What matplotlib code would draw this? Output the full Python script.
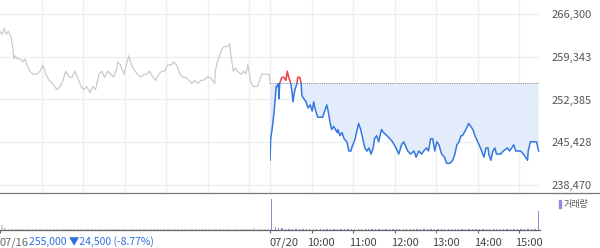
import numpy as np
import matplotlib
matplotlib.use("Agg")
import matplotlib.pyplot as plt
from matplotlib.patches import Rectangle
from matplotlib.lines import Line2D
from matplotlib.transforms import ScaledTranslation

plt.rcParams['font.family'] = ['Noto Sans CJK KR', 'DejaVu Sans']

# 07/16 (minutes after 09:00, price)
min_0716 = [0, 3, 6, 9, 12, 14, 16, 19, 20, 22, 25, 29, 33, 36, 39, 43, 48, 53, 58, 62,
            66, 71, 76, 82, 87, 91, 95, 100, 104, 108, 112, 117, 121, 125, 130, 134, 138, 143, 147, 151,
            156, 160, 164, 169, 170, 174, 179, 186, 190, 195, 199, 203, 208, 212, 216, 221, 225, 229, 234, 238,
            242, 247, 251, 255, 260, 264, 268, 273, 277, 281, 286, 290, 294, 299, 303, 307, 310, 311, 314, 317,
            320, 324, 329, 332, 333, 335, 337, 340, 343, 348, 352, 355, 358, 361, 363, 366, 369, 372, 375, 378,
            384, 389, 390]
px_0716 = [263500, 263000, 264000, 263000, 263500, 263000, 262500, 260500, 259000, 259500,
           259000, 259000, 258500, 259000, 258000, 257000, 256500, 256500, 257000, 258000,
           256500, 255500, 255000, 254000, 254500, 255500, 257000, 256000, 256000, 257000,
           256000, 254500, 254000, 254500, 253500, 254500, 254000, 256500, 257000, 256000,
           257000, 256500, 256000, 257500, 258500, 258000, 256500, 259500, 258000, 257000,
           256500, 256000, 256500, 256500, 257000, 256000, 255500, 256500, 257000, 257000,
           258000, 258000, 258500, 258000, 256500, 256000, 256000, 255500, 255000, 255500,
           255000, 255500, 255500, 256000, 256000, 255500, 255000, 257000, 258500, 259500,
           260500, 261000, 261000, 261500, 260000, 258500, 257000, 257500, 257000, 256500,
           257000, 256500, 258000, 256000, 255000, 254500, 254500, 254500, 255500, 256500,
           256500, 256500, 255000]

# 07/20
min_0720 = [0, 1, 3, 6, 9, 10, 12, 13, 14, 17, 20, 23, 25, 27, 30, 32, 33, 36, 39, 40,
            43, 45, 46, 49, 52, 55, 58, 61, 63, 66, 69, 74, 76, 79, 82, 84, 87, 89, 92, 97,
            98, 101, 104, 107, 111, 114, 117, 118, 123, 125, 128, 131, 134, 137, 140, 143, 146, 149, 151, 154,
            157, 161, 164, 169, 173, 177, 182, 186, 190, 193, 199, 203, 208, 211, 215, 219, 222, 226, 229, 232,
            235, 238, 241, 244, 248, 252, 255, 260, 264, 267, 270, 273, 276, 278, 283, 287, 290, 293, 296, 300,
            304, 309, 312, 315, 316, 319, 322, 325, 327, 330, 333, 337, 343, 346, 352, 355, 359, 362, 366, 372,
            373, 376, 381, 385, 388]
px_0720 = [242500, 246000, 247500, 250500, 254500, 254500, 255000, 252500, 255000, 256000,
           256000, 255500, 257000, 256000, 255000, 253500, 252000, 254000, 255000, 256000,
           256000, 255000, 253000, 252500, 252000, 251000, 251500, 250500, 252000, 250500,
           249500, 249500, 249500, 250500, 251500, 250500, 248500, 247500, 248000, 247000,
           247500, 246500, 247000, 246000, 245500, 244000, 244000, 244500, 246000, 247000,
           248500, 247500, 246000, 244500, 244000, 244500, 243500, 244500, 246000, 246500,
           245500, 247500, 247000, 246500, 246000, 245500, 244500, 243500, 245000, 245500,
           244000, 243500, 244000, 243000, 244000, 243500, 244000, 244500, 244000, 246000,
           246000, 244000, 245500, 245000, 243500, 243000, 242000, 242000, 242500, 243500,
           245000, 245500, 246500, 246500, 247500, 248500, 248000, 247500, 246500, 245500,
           244500, 243000, 244500, 244500, 243500, 242500, 244000, 244500, 243500, 243500,
           243500, 244000, 244500, 244000, 245000, 244000, 244000, 244000, 243500, 242500,
           244000, 245500, 245500, 245500, 244000]

prev_close = 255000

# volume, 5-minute buckets
vol_0716 = [14, 5, 4, 3, 4, 3, 3, 2, 3, 3, 2, 3, 2, 2, 3, 2, 2, 3, 2, 2,
            2, 3, 2, 2, 2, 2, 3, 2, 2, 2, 2, 2, 2, 2, 2, 3, 2, 2, 2, 2,
            2, 2, 2, 2, 2, 2, 2, 2, 2, 2, 2, 2, 2, 2, 2, 2, 2, 2, 2, 2,
            3, 3, 2, 2, 2, 2, 2, 2, 2, 2, 2, 3, 4, 6, 3, 2, 2, 2]
vol_0720 = [85, 9, 6, 5, 4, 4, 4, 3, 3, 3, 3, 3, 3, 3, 3, 2, 3, 3, 2, 2,
            3, 2, 2, 2, 2, 2, 2, 2, 2, 2, 2, 2, 2, 2, 2, 2, 2, 2, 2, 2,
            2, 2, 2, 2, 2, 2, 2, 2, 2, 2, 2, 2, 2, 2, 2, 2, 2, 2, 2, 2,
            2, 2, 2, 2, 2, 2, 2, 2, 2, 2, 2, 2, 2, 2, 2, 2, 2, 52]

yticks = [238470, 245428, 252385, 259343, 266300]
xtick_pos = [0, 390, 450, 510, 570, 630, 690, 750]
xtick_lab = ['07/16', '07/20', '10:00', '11:00', '12:00', '13:00', '14:00', '15:00']

blue = '#3478de'
red = '#f0414a'
gray = '#cbcbcb'
purple = '#9488e0'

fig = plt.figure(figsize=(6, 2.48), dpi=100)
ax = fig.add_axes([0, 55 / 248, 0.9, 193 / 248])
axv = fig.add_axes([0, 18 / 248, 0.9, 37 / 248])

x1 = np.array(min_0716)
p1 = np.array(px_0716)
x2 = 390 + np.array(min_0720)
p2 = np.array(px_0720)

ax.set_xlim(0, 780)
ax.set_ylim(237168, 268578)
for s in ax.spines.values():
    s.set_visible(False)
ax.set_yticks(yticks)
ax.set_yticklabels([f'{v:,}' for v in yticks])
ax.yaxis.tick_right()
ax.tick_params(axis='y', length=0, pad=8, labelsize=8, labelcolor='#555555')
ax.set_xticks([])
for v in yticks:
    ax.axhline(v, color='#efefef', lw=0.9, zorder=0)
for t in list(range(60, 390, 60)) + list(range(390, 780, 60)):
    ax.axvline(t, color='#efefef', lw=0.9, zorder=0)

ax.plot(x1, p1, color=gray, lw=0.9)
ax.fill_between(x2, p2, prev_close, where=p2 < prev_close, interpolate=True,
                color='#e3ecfa', lw=0, zorder=1)
ax.plot([390, 780], [prev_close, prev_close], color='#888888', lw=0.7,
        linestyle=(0, (1, 1.2)), zorder=2)
lb, = ax.plot(x2, p2, color=blue, lw=1.1, zorder=3)
lr, = ax.plot(x2, p2, color=red, lw=1.1, zorder=3)
lb.set_clip_path(Rectangle((390, 230000), 400, prev_close - 230000, transform=ax.transData))
lr.set_clip_path(Rectangle((390, prev_close), 400, 20000, transform=ax.transData))

# volume
t1 = np.arange(len(vol_0716)) * 5 + 2.5
t2 = 390 + np.arange(len(vol_0720)) * 5 + 2.5
axv.bar(t1, vol_0716, width=3, color='#d2d2d2', lw=0)
axv.bar(t2, vol_0720, width=2, color=purple, lw=0)
axv.set_xlim(0, 780)
axv.set_ylim(0, 100)
axv.set_yticks([])
for k in ['top', 'left', 'right']:
    axv.spines[k].set_visible(False)
axv.spines['bottom'].set_color('#666666')
axv.spines['bottom'].set_linewidth(0.9)
axv.set_xticks(xtick_pos)
axv.set_xticklabels(xtick_lab)
axv.tick_params(axis='x', length=2.5, width=0.8, color='#666666', pad=3,
                labelsize=8, labelcolor='#444444')
for i, lab in enumerate(axv.get_xticklabels()):
    lab.set_ha('left')
    if i >= 2:
        lab.set_transform(lab.get_transform() + ScaledTranslation(-4 / 100, 0, fig.dpi_scale_trans))
    elif i == 0:
        lab.set_color('#666666')

fig.add_artist(Line2D([0, 1], [55 / 248, 55 / 248], color='#777777', lw=0.9))
fig.text(29 / 600, 6 / 248, '255,000 \u25bc24,500 (-8.77%)', color='#2f6fdc',
         fontsize=7.5, va='center', ha='left')
fig.add_artist(Rectangle((559 / 600, 40 / 248), 2 / 600, 8 / 248, color=purple,
                         transform=fig.transFigure))
fig.text(564 / 600, 44 / 248, '거래량', fontsize=6.5, color='#555555', va='center', ha='left')

fig.savefig('out.png', dpi=100)
